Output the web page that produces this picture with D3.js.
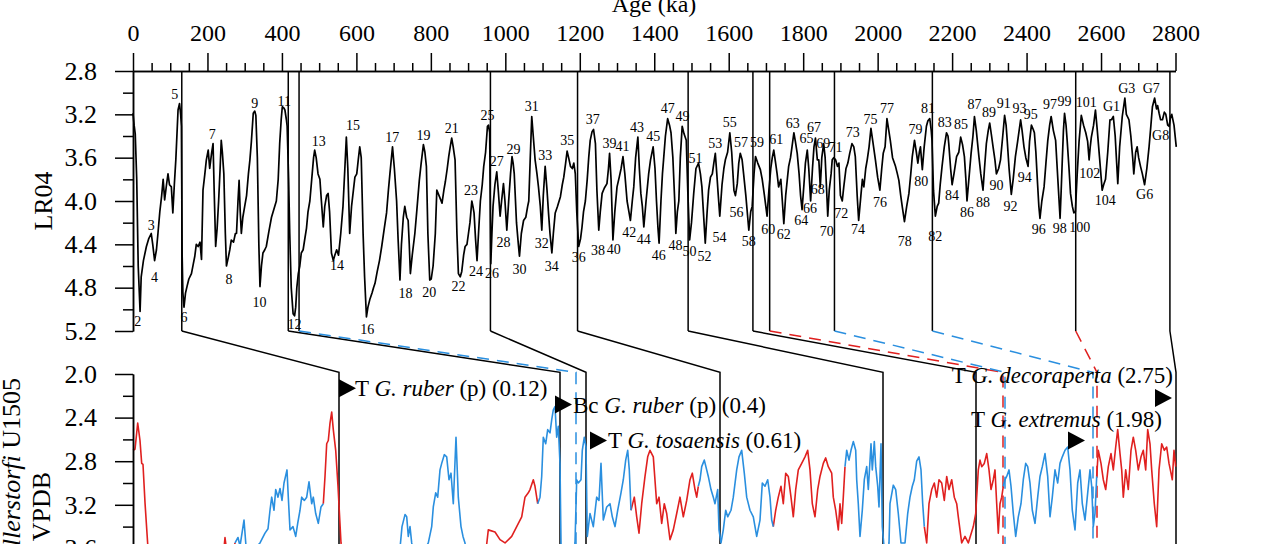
<!DOCTYPE html>
<html><head><meta charset="utf-8">
<script src="https://cdn.jsdelivr.net/npm/d3@7"></script>
<style>
body{margin:0;background:#fff;overflow:hidden}
svg{display:block}
text{font-family:"Liberation Serif","Times New Roman",serif;fill:#000}
</style></head>
<body><svg id="c" width="1280" height="544"></svg>
<script>
// ---------- DATA ----------
const ageMajorTicks = [0,200,400,600,800,1000,1200,1400,1600,1800,2000,2200,2400,2600,2800];
const ageMinorTicks = d3.range(50,2800,100).concat(d3.range(100,2800,200)).filter(v=>v%200!==0);
const lr04MajorTicks = [2.8,3.2,3.6,4.0,4.4,4.8,5.2];
const lr04MinorTicks = [3.0,3.4,3.8,4.2,4.6,5.0];
const lowMajorTicks = [2.0,2.4,2.8,3.2,3.6,4.0,4.4];
const lowMinorTicks = [2.2,2.6,3.0,3.4,3.8,4.2];

const lr04Age = [0,3,6,10,14,19,22,28,36,42,49,53,58,63,67,72,77,81,85,90,94,98,103,107,111,115,121,125,128,130,132,134,137,141,145,150,157,162,166,170,175,180,184,188,193,197,202,206,211,215,218,222,226,230,234,237,240,244,248,251,256,260,264,270,275,278,282,285,288,291,295,300,305,310,314,318,323,327,330,334,338,341,345,349,354,358,365,372,378,385,390,394,398,401,405,408,412,414,418,421,425,430,434,437,440,444,448,452,457,461,466,470,475,480,485,488,492,497,502,506,511,515,520,524,528,533,538,542,547,552,558,564,569,573,577,582,587,592,596,601,605,609,613,618,622,627,631,636,642,646,650,656,662,668,675,681,686,690,697,702,708,712,717,721,726,730,735,739,742,745,750,757,762,769,774,780,784,788,792,797,801,806,812,816,822,830,835,839,844,848,852,856,860,865,870,874,879,883,888,892,897,901,905,910,913,916,920,924,928,933,938,942,947,952,955,958,960,961,964,967,972,977,981,986,990,995,999,1004,1009,1014,1018,1021,1024,1030,1035,1038,1043,1049,1055,1060,1063,1067,1071,1075,1080,1085,1089,1094,1098,1102,1107,1112,1116,1120,1125,1129,1134,1140,1148,1153,1157,1162,1166,1170,1175,1180,1184,1188,1192,1197,1202,1206,1210,1215,1220,1224,1228,1233,1237,1242,1246,1251,1255,1260,1266,1273,1277,1280,1284,1289,1294,1300,1306,1311,1316,1321,1327,1332,1336,1341,1345,1350,1356,1360,1364,1368,1372,1378,1385,1390,1397,1402,1406,1410,1413,1418,1422,1425,1430,1436,1441,1445,1450,1455,1458,1462,1466,1470,1475,1480,1486,1490,1495,1500,1506,1512,1519,1524,1528,1532,1537,1542,1546,1551,1556,1560,1564,1568,1572,1576,1582,1587,1591,1597,1603,1608,1614,1618,1623,1627,1631,1636,1640,1646,1651,1654,1659,1663,1668,1672,1678,1685,1690,1696,1703,1708,1713,1717,1721,1726,1730,1734,1740,1744,1748,1753,1758,1761,1766,1770,1775,1779,1784,1789,1793,1797,1802,1806,1811,1815,1820,1825,1829,1833,1838,1842,1846,1850,1855,1859,1863,1866,1870,1875,1878,1882,1887,1892,1896,1900,1905,1909,1915,1920,1925,1931,1936,1940,1945,1949,1955,1959,1963,1968,1972,1977,1982,1987,1994,2000,2006,2011,2015,2020,2025,2030,2034,2040,2048,2053,2057,2062,2066,2072,2078,2084,2089,2093,2099,2104,2108,2112,2115,2120,2125,2131,2135,2140,2144,2146,2150,2155,2160,2164,2168,2173,2179,2185,2189,2191,2196,2200,2205,2212,2218,2223,2228,2233,2237,2240,2245,2251,2256,2260,2265,2272,2277,2283,2287,2292,2297,2301,2306,2310,2315,2319,2325,2330,2336,2341,2345,2348,2353,2359,2364,2370,2376,2384,2388,2393,2398,2404,2408,2413,2418,2421,2425,2429,2433,2436,2441,2447,2452,2457,2462,2466,2472,2478,2484,2490,2493,2496,2499,2502,2506,2509,2514,2518,2523,2527,2531,2536,2541,2547,2553,2559,2564,2568,2571,2574,2580,2585,2590,2596,2603,2607,2612,2618,2624,2628,2633,2638,2642,2645,2650,2657,2664,2668,2675,2680,2685,2688,2693,2697,2701,2706,2711,2717,2723,2729,2734,2738,2744,2749,2752,2756,2760,2765,2770,2774,2779,2783,2787,2790,2796,2802];
const lr04Value = [3.19,3.30,3.38,3.8,4.6,5.02,4.70,4.55,4.42,4.35,4.30,4.40,4.55,4.45,4.30,4.10,3.95,3.80,3.99,3.85,3.75,3.85,3.87,4.11,3.85,3.62,3.16,3.10,3.20,3.31,4.5,4.85,4.98,4.85,4.79,4.72,4.67,4.58,4.51,4.40,4.42,4.38,4.54,3.90,3.75,3.62,3.53,3.70,3.56,3.47,3.9,4.42,4.25,4.00,3.70,3.44,3.55,3.75,4.30,4.60,4.52,4.45,4.36,4.38,4.30,4.30,4.00,3.81,4.10,4.30,4.15,4.05,3.95,3.75,3.62,3.45,3.19,3.17,3.21,3.60,4.40,4.79,4.60,4.48,4.45,4.42,4.28,4.15,4.08,4.00,3.80,3.47,3.25,3.13,3.14,3.16,3.25,3.31,3.8,4.30,4.80,5.04,5.06,4.98,4.80,4.67,4.60,4.48,4.45,4.36,4.25,4.10,4.00,3.80,3.60,3.53,3.60,3.75,3.80,4.00,4.24,4.05,3.95,3.93,4.10,4.48,4.55,4.50,4.45,4.50,4.30,4.05,3.70,3.41,3.70,4.30,4.05,3.90,3.78,3.75,3.62,3.50,3.60,4.30,4.70,5.07,4.98,4.91,4.85,4.80,4.76,4.65,4.55,4.42,4.25,4.11,3.90,3.75,3.50,3.70,4.00,4.35,4.73,4.40,4.15,4.05,4.15,4.18,4.40,4.67,4.50,4.30,4.10,3.81,3.65,3.48,3.55,3.68,4.30,4.73,4.72,4.60,4.30,3.90,3.95,4.02,3.90,3.82,3.70,3.59,3.50,3.42,3.50,3.62,4.30,4.67,4.70,4.65,4.50,4.42,4.40,4.30,4.20,4.00,4.05,4.11,4.35,4.55,4.30,4.00,3.85,3.68,3.55,3.31,3.30,3.37,4.20,4.58,4.30,4.05,3.85,3.73,3.90,4.14,4.00,3.84,4.00,4.27,4.00,3.75,3.59,3.65,3.75,4.20,4.40,4.51,4.30,4.18,4.15,4.05,4.00,3.60,3.22,3.40,3.62,3.75,3.87,4.05,4.27,3.95,3.68,3.90,4.11,4.30,4.48,4.30,4.11,4.05,3.96,3.85,3.78,3.65,3.54,3.60,3.68,3.70,3.65,3.75,4.11,4.42,4.35,4.24,4.10,4.00,3.80,3.60,3.44,3.36,3.34,3.47,3.90,4.27,4.10,3.93,3.88,3.84,3.70,3.56,3.80,4.36,4.10,3.87,3.78,3.70,3.59,3.75,4.00,4.10,4.18,4.00,3.87,3.60,3.41,3.70,3.93,4.05,4.24,4.00,3.75,3.62,3.50,3.70,4.00,4.25,4.39,4.00,3.75,3.62,3.40,3.24,3.30,3.37,3.60,4.00,4.30,4.10,4.00,3.60,3.31,3.38,3.44,3.90,4.36,4.20,3.93,3.70,3.65,3.75,3.87,4.10,4.39,4.10,3.90,3.78,3.75,3.65,3.56,3.75,3.95,4.14,3.85,3.70,3.62,3.55,3.37,3.55,3.90,3.95,3.84,3.65,3.56,3.62,3.75,3.95,4.15,4.27,4.10,4.05,3.75,3.59,3.65,3.71,3.80,3.95,4.14,3.90,3.70,3.60,3.53,3.65,3.75,3.87,3.80,4.00,4.21,3.95,3.78,3.68,3.60,3.50,3.37,3.45,3.56,3.75,3.95,4.08,3.85,3.65,3.53,3.70,4.00,3.70,3.50,3.42,3.62,3.62,3.87,3.60,3.47,3.60,3.90,4.14,3.90,3.75,3.62,3.60,3.62,3.68,3.65,3.95,4.00,3.87,3.70,3.65,3.56,3.47,3.50,3.59,3.95,4.18,3.95,3.80,3.87,3.70,3.62,3.50,3.33,3.45,3.62,3.78,3.90,3.70,3.56,3.50,3.24,3.35,3.44,3.60,3.68,3.75,3.81,3.95,4.05,4.19,4.05,3.93,3.75,3.59,3.44,3.55,3.65,3.55,3.50,3.71,3.50,3.31,3.26,3.24,3.35,3.44,3.90,4.14,4.05,4.02,3.85,3.68,3.50,3.37,3.40,3.47,3.70,3.85,3.75,3.59,3.55,3.41,3.48,3.59,3.80,4.00,3.80,3.56,3.40,3.22,3.35,3.59,3.75,3.90,3.70,3.47,3.35,3.28,3.40,3.50,3.62,3.75,3.70,3.62,3.40,3.21,3.30,3.44,3.70,3.94,3.80,3.59,3.45,3.25,3.35,3.50,3.60,3.68,3.45,3.30,3.34,3.37,3.55,3.81,4.05,4.16,4.00,3.87,3.65,3.44,3.30,3.22,3.35,3.44,3.80,4.16,3.90,3.62,3.35,3.19,3.30,3.44,3.70,3.93,4.05,4.11,4.10,3.75,3.45,3.21,3.30,3.37,3.45,3.62,3.50,3.41,3.30,3.16,3.35,3.60,3.90,3.85,3.80,3.55,3.25,3.25,3.22,3.40,3.65,3.84,3.50,3.22,3.05,3.20,3.25,3.40,3.60,3.75,3.55,3.50,3.60,3.68,3.75,3.85,3.70,3.50,3.30,3.13,3.05,3.15,3.12,3.19,3.25,3.25,3.18,3.20,3.30,3.31,3.22,3.20,3.30,3.50];

const misLabel = ["2","3","4","5","6","7","8","9","10","11","12","13","14","15","16","17","18","19","20","21","22","23","24","25","26","27","28","29","30","31","32","33","34","35","36","37","38","39","40","41","42","43","44","45","46","47","48","49","50","51","52","53","54","55","56","57","58","59","60","61","62","63","64","65","66","67","68","69","70","71","72","73","74","75","76","77","78","79","80","81","82","83","84","85","86","87","88","89","90","91","92","93","94","95","96","97","98","99","100","101","102","104","G1","G3","G6","G7","G8"];
const misAge = [13,49,58,112,137,213,258,327,340,406,434,499,548,591,629,696,732,780,796,856,874,908,921,952,964,977,995,1022,1038,1071,1098,1107,1125,1166,1197,1235,1249,1280,1291,1315,1333,1354,1372,1397,1412,1436,1457,1476,1495,1511,1535,1564,1575,1603,1621,1633,1654,1676,1706,1728,1748,1772,1795,1809,1818,1829,1839,1854,1863,1887,1902,1933,1947,1981,2006,2025,2073,2102,2117,2135,2155,2180,2200,2224,2240,2260,2283,2299,2319,2339,2357,2381,2395,2411,2433,2463,2489,2502,2543,2560,2570,2611,2628,2669,2717,2735,2760];
const misValue = [5.11,4.22,4.70,3.01,5.07,3.38,4.72,3.10,4.93,3.08,5.14,3.45,4.59,3.30,5.18,3.41,4.85,3.39,4.84,3.33,4.79,3.90,4.65,3.21,4.67,3.63,4.38,3.52,4.63,3.12,4.39,3.58,4.60,3.44,4.52,3.24,4.45,3.47,4.44,3.49,4.29,3.32,4.35,3.40,4.50,3.14,4.41,3.22,4.46,3.60,4.51,3.47,4.33,3.27,4.10,3.46,4.37,3.46,4.26,3.43,4.31,3.28,4.18,3.42,4.07,3.32,3.89,3.47,4.28,3.50,4.11,3.36,4.26,3.24,4.01,3.14,4.37,3.34,3.82,3.14,4.32,3.27,3.95,3.29,4.10,3.11,4.01,3.18,3.85,3.10,4.05,3.14,3.78,3.20,4.26,3.11,4.25,3.08,4.24,3.09,3.74,3.99,3.12,2.96,3.94,2.96,3.39];

// tie points: LR04 age (ka) -> U1505 depth position
const tieAge   = [131,417,446,960,1194,1491,1665,1710,1884,2147,2532,2785];
const tieDepth = [20.6,42.7,44.3,45.3,58.7,75.0,84.3,87.0,87.2,96.0,96.4,104.3];
const tieKind  = ["black","black","blue","black","black","black","black","red","blue","blue","red","black"];

const redSegments = [
 [[0,2.70],[0.2,2.69],[0.47,2.45],[0.7,2.61],[0.87,2.82],[1.0,2.83],[1.2,3.18],[1.47,3.56],[1.7,3.85],[2.3,4.0],[3.5,3.95],[5,3.9],[6.5,4.0],[8,3.85],[9.0,3.7],[9.2,3.50],[9.4,3.65],[9.8,3.75],[10.2,3.55]],
 [[19.03,3.19],[19.2,2.94],[19.37,2.64],[19.53,2.61],[19.7,2.45],[19.87,2.35],[20.03,2.51],[20.27,2.70],[20.5,3.03],[20.8,3.55],[21.2,3.9],[21.9,4.0],[23,3.9],[24.7,3.9]],
 [[35.2,3.7],[35.53,3.43],[36.2,3.45],[36.7,3.52],[37.2,3.55],[37.87,3.49],[38.37,3.40],[38.87,3.31],[39.2,3.13],[39.53,3.09],[39.7,3.06],[40.03,2.97],[40.2,3.03],[40.47,3.19]],
 [[49.8,3.25],[50.13,3.13],[50.37,3.31],[50.6,3.46],[50.87,3.19],[51.2,2.94],[51.47,2.76],[51.7,2.70],[52.03,2.76],[52.37,3.19],[52.6,3.13],[52.87,3.37],[53.13,3.19],[53.37,3.28],[53.7,3.52],[54.03,3.43],[54.37,3.28],[54.7,3.13],[55.03,3.31],[55.37,3.16],[55.7,2.97],[55.93,2.91],[56.2,3.06],[56.37,3.13],[56.53,3.03]],
 [[64.03,3.40],[64.27,3.25],[64.53,3.13],[64.8,3.03],[65.03,3.19],[65.27,2.91],[65.53,2.94],[65.8,3.13],[66.03,3.31],[66.27,3.06],[66.53,2.88],[66.87,2.82],[67.2,2.76],[67.47,2.70],[67.7,2.88],[67.93,3.19],[68.2,3.31],[68.47,3.06],[68.7,2.94],[69.03,2.82],[69.27,2.77],[69.53,2.85],[69.87,2.91],[70.03,3.13],[70.27,3.25],[70.53,3.43],[70.7,3.19],[70.87,3.37],[71.03,3.13],[71.2,2.85]],
 [[79.13,3.40],[79.37,3.55],[79.6,3.19],[79.87,3.06],[80.13,3.00],[80.37,3.13],[80.6,2.97],[80.87,3.00],[81.13,3.16],[81.37,2.94],[81.6,3.06],[81.87,2.97],[82.13,3.13],[82.37,3.19],[82.53,3.31],[82.87,3.55],[83.2,3.49],[83.53,3.55],[84.03,3.40],[84.27,3.28],[84.53,2.88],[84.7,2.79],[84.87,2.85],[85.13,2.82],[85.37,2.73],[85.6,2.88],[85.8,3.06],[86.03,2.97],[86.2,2.88],[86.37,3.19],[86.53,3.46],[86.7,3.19],[86.87,3.13],[87.03,3.03]],
 [[96.37,2.94],[96.53,2.70],[96.8,2.82],[97.03,2.97],[97.27,3.06],[97.53,2.85],[97.8,2.73],[98.03,2.88],[98.27,2.67],[98.47,2.51],[98.7,2.73],[98.87,2.88],[99.03,3.13],[99.27,2.88],[99.53,3.06],[99.8,2.70],[100.03,2.58],[100.27,2.70],[100.53,2.88],[100.8,2.76],[101.03,2.70],[101.27,2.88],[101.47,2.51],[101.7,2.64],[101.87,2.88],[102.13,3.19],[102.37,3.40],[102.6,2.88],[102.87,2.64],[103.13,2.70],[103.37,2.67],[103.6,2.82],[103.8,2.91],[103.93,2.97],[104.1,2.70],[104.27,2.85]]
];
const blueSegments = [
 [[10.2,3.55],[10.5,3.50],[10.7,3.58],[11.1,3.34],[11.3,3.58],[11.7,3.70],[12.2,3.60],[12.7,3.55],[13.2,3.46],[13.5,3.42],[13.7,3.25],[13.87,3.13],[14.1,3.25],[14.27,3.06],[14.5,3.13],[14.7,3.05],[14.9,3.16],[15.1,3.00],[15.4,2.88],[15.53,3.13],[15.7,3.43],[16.0,3.40],[16.27,3.49],[16.47,3.37],[16.7,3.25],[16.87,3.13],[17.13,3.16],[17.37,3.13],[17.6,2.99],[17.87,3.19],[18.03,3.13],[18.27,3.28],[18.53,3.37],[18.8,3.22],[19.03,3.19]],
 [[24.7,3.9],[26.2,3.75],[26.7,3.6],[26.9,3.40],[27.2,3.29],[27.37,3.31],[27.53,3.49],[27.7,3.40],[27.87,3.55],[28.2,3.7],[28.9,3.65],[29.53,3.55],[29.87,3.40],[30.03,3.22],[30.27,3.09],[30.47,3.13],[30.7,2.88],[30.87,2.82],[31.13,2.74],[31.37,2.76],[31.6,2.97],[31.8,2.91],[32.03,3.19],[32.3,2.58],[32.53,3.13],[32.8,3.40],[33.0,3.49],[33.2,3.55],[33.5,3.8],[34.2,3.9],[35.2,3.7]],
 [[40.47,3.19],[40.7,3.13],[40.87,2.94],[41.03,2.58],[41.27,2.64],[41.47,2.51],[41.7,2.54],[41.87,2.42],[42.03,2.33],[42.2,2.30],[42.37,2.58],[42.53,2.48],[42.7,2.82],[42.8,3.55],[43.0,3.9],[43.7,3.9],[44.2,3.55],[44.37,2.97],[44.53,3.00],[44.8,2.97],[44.93,2.70],[45.13,2.58],[45.3,2.67],[45.43,3.49],[45.7,3.28],[46.03,3.40],[46.37,3.13],[46.6,3.16],[46.8,2.82],[47.03,3.34],[47.37,3.22],[47.7,3.19],[47.93,3.31],[48.2,3.40],[48.47,3.25],[48.8,3.09],[49.03,2.97],[49.27,2.79],[49.47,2.70],[49.63,2.88],[49.8,3.25]],
 [[56.53,3.03],[56.7,2.97],[56.87,2.85],[57.13,2.79],[57.37,2.88],[57.53,2.94],[57.8,3.06],[58.03,3.13],[58.2,3.19],[58.47,3.06],[58.6,3.43],[58.8,3.55],[59.03,3.43],[59.27,3.25],[59.47,3.31],[59.8,3.25],[60.03,3.13],[60.37,2.88],[60.6,2.76],[60.87,2.70],[61.13,2.91],[61.37,3.13],[61.7,3.25],[62.03,3.31],[62.37,3.49],[62.7,3.34],[62.93,3.00],[63.2,3.03],[63.47,2.97],[63.7,3.13],[63.87,3.34],[64.03,3.40]],
 [[71.2,2.85],[71.37,2.70],[71.6,2.79],[71.8,2.70],[72.03,2.62],[72.27,2.70],[72.37,2.97],[72.53,3.19],[72.7,3.49],[72.93,3.25],[73.13,2.97],[73.37,2.85],[73.53,3.06],[73.8,2.64],[73.93,2.88],[74.13,2.62],[74.27,2.85],[74.47,3.03],[74.6,3.22],[74.8,2.64],[74.93,3.40],[75.07,3.55],[75.3,3.8],[75.6,3.55],[75.7,3.19],[76.03,3.02],[76.27,3.06],[76.53,3.28],[76.8,3.55],[77.2,3.55],[77.47,3.28],[77.7,3.13],[77.93,3.03],[78.13,2.97],[78.37,2.80],[78.6,2.76],[78.8,2.88],[78.97,3.19],[79.13,3.40]],
 [[87.03,3.03],[87.2,2.97],[87.37,2.94],[87.6,2.88],[87.8,3.03],[88.03,3.28],[88.27,3.49],[88.53,3.31],[88.8,3.19],[89.03,2.97],[89.27,2.82],[89.47,2.85],[89.7,3.00],[89.93,3.25],[90.2,3.37],[90.47,3.13],[90.7,2.94],[90.93,2.85],[91.2,2.73],[91.47,2.94],[91.7,3.31],[91.93,3.13],[92.2,2.88],[92.47,3.00],[92.7,2.82],[92.93,2.76],[93.2,2.70],[93.47,2.67],[93.7,2.88],[93.93,3.25],[94.2,3.43],[94.47,3.00],[94.7,2.88],[94.93,3.19],[95.2,3.34],[95.47,3.09],[95.7,2.88],[95.87,3.03],[96.03,3.40],[96.2,3.28],[96.37,2.94]]
];

// bio-events: marker (depth, value) and label anchor (depth, value)
const eventPre   = ["T ","Bc ","T ","T ","T "];
const eventTaxon = ["G. ruber","G. ruber","G. tosaensis","G. decoraperta","G. extremus"];
const eventPost  = [" (p) (0.12)"," (p) (0.4)"," (0.61)"," (2.75)"," (1.98)"];
const markerDepth = [20.6,42.2,45.7,102.2,93.5];
const markerValue = [2.13,2.28,2.61,2.22,2.61];
const labelDepth  = [22.2,44.0,47.5,104.0,102.9];
const labelValue  = [2.20,2.36,2.68,2.08,2.49];
const labelAnchor = ["start","start","start","end","end"];

// ---------- DRAW ----------
const RED = "#e0201f", BLUE = "#2a8fdf";
const svg = d3.select("#c");
const ageX  = d3.scaleLinear().domain([0,2800]).range([133,1175.5]);
const topY  = d3.scaleLinear().domain([2.8,5.2]).range([71,331]);
const depthX= d3.scaleLinear().domain([0,104.3]).range([133,1176]);
const lowY  = d3.scaleLinear().domain([2.0,4.4]).range([374,635.6]);

const kindColor = {black:"#000", blue:BLUE, red:RED};
const kindDash  = {black:null, blue:"12,8", red:"12,8"};

// tie lines
const ties = svg.append("g").attr("fill","none");
tieAge.forEach((a,i)=>{
  const x1 = ageX(a), x2 = depthX(tieDepth[i]);
  const yTop = topY(2.8), yB = topY(5.2), yL = lowY(1.985), yEnd = lowY(4.4);
  ties.append("line").attr("x1",x1).attr("x2",x1).attr("y1",yTop).attr("y2",yB)
      .attr("stroke","#000").attr("stroke-width",1.5);
  ties.append("path").attr("d",`M${x1},${yB}L${x2},${yL}L${x2},${yEnd}`)
      .attr("stroke",kindColor[tieKind[i]]).attr("stroke-width",1.5)
      .attr("stroke-dasharray",kindDash[tieKind[i]]);
});

// LR04 curve
const lr04 = lr04Age.map((a,i)=>[a,lr04Value[i]]);
svg.append("path").datum(lr04)
  .attr("d", d3.line().x(d=>ageX(d[0])).y(d=>topY(d[1])))
  .attr("fill","none").attr("stroke","#000").attr("stroke-width",1.7).attr("stroke-linejoin","round");

// lower curves
const lowLine = d3.line().x(d=>depthX(d[0])).y(d=>lowY(d[1]));
svg.append("g").selectAll("path").data(redSegments).join("path")
  .attr("d",lowLine).attr("fill","none").attr("stroke",RED).attr("stroke-width",1.6).attr("stroke-linejoin","round");
svg.append("g").selectAll("path").data(blueSegments).join("path")
  .attr("d",lowLine).attr("fill","none").attr("stroke",BLUE).attr("stroke-width",1.6).attr("stroke-linejoin","round");

// axes
function styleAxis(g, fs){
  g.attr("font-family",null).attr("font-size",null);
  g.selectAll("path,line").attr("stroke","#000").attr("stroke-width",1.5);
  g.selectAll("text").attr("fill","#000").style("font-size",fs+"px");
}
const gxMinor = svg.append("g").attr("transform","translate(0,71)")
  .call(d3.axisTop(ageX).tickValues(ageMinorTicks).tickSize(8).tickSizeOuter(0).tickFormat(""));
styleAxis(gxMinor,24);
const gx = svg.append("g").attr("transform","translate(0,71)")
  .call(d3.axisTop(ageX).tickValues(ageMajorTicks).tickSize(18).tickSizeOuter(0).tickPadding(12).tickFormat(d3.format("d")));
styleAxis(gx,24);

const gyMinor = svg.append("g").attr("transform","translate(133,0)")
  .call(d3.axisLeft(topY).tickValues(lr04MinorTicks).tickSize(10).tickSizeOuter(0).tickFormat(""));
styleAxis(gyMinor,26);
const gy = svg.append("g").attr("transform","translate(133,0)")
  .call(d3.axisLeft(topY).tickValues(lr04MajorTicks).tickSize(18).tickSizeOuter(0).tickPadding(18).tickFormat(d3.format(".1f")));
styleAxis(gy,26);

const gy2Minor = svg.append("g").attr("transform","translate(133,0)")
  .call(d3.axisLeft(lowY).tickValues(lowMinorTicks).tickSize(10).tickSizeOuter(0).tickFormat(""));
styleAxis(gy2Minor,26);
const gy2 = svg.append("g").attr("transform","translate(133,0)")
  .call(d3.axisLeft(lowY).tickValues(lowMajorTicks).tickSize(18).tickSizeOuter(0).tickPadding(18).tickFormat(d3.format(".1f")));
styleAxis(gy2,26);

// axis titles
svg.append("text").attr("x",654).attr("y",12).attr("text-anchor","middle")
  .style("font-size","24px").text("Age (ka)");
svg.append("text").attr("transform","translate(52,201) rotate(-90)").attr("text-anchor","middle")
  .style("font-size","26px").text("LR04");
const yl1 = svg.append("text").attr("transform","translate(20,378) rotate(-90)").attr("text-anchor","end").style("font-size","26px");
yl1.append("tspan").text("δ");
yl1.append("tspan").attr("baseline-shift","super").style("font-size","16px").text("13");
yl1.append("tspan").text("C ");
yl1.append("tspan").style("font-style","italic").text("C. wuellerstorfi");
yl1.append("tspan").text(" U1505");
svg.append("text").attr("transform","translate(50,472) rotate(-90)").attr("text-anchor","end")
  .style("font-size","26px").text("‰ VPDB");

// MIS labels
svg.append("g").selectAll("text").data(misLabel).join("text")
  .attr("x",(d,i)=>ageX(misAge[i])).attr("y",(d,i)=>topY(misValue[i]))
  .attr("text-anchor","middle").attr("dy","0.35em")
  .style("font-size","14px").text(d=>d);

// bio-events
eventTaxon.forEach((t,i)=>{
  const mx = depthX(markerDepth[i]), my = lowY(markerValue[i]);
  svg.append("path").attr("d",`M${mx},${my-9}L${mx+17},${my}L${mx},${my+9}Z`).attr("fill","#000");
  const tx = svg.append("text").attr("x",depthX(labelDepth[i])).attr("y",lowY(labelValue[i]))
    .attr("text-anchor",labelAnchor[i]).style("font-size","23px");
  tx.append("tspan").text(eventPre[i]);
  tx.append("tspan").style("font-style","italic").text(t);
  tx.append("tspan").text(eventPost[i]);
});
</script></body></html>
